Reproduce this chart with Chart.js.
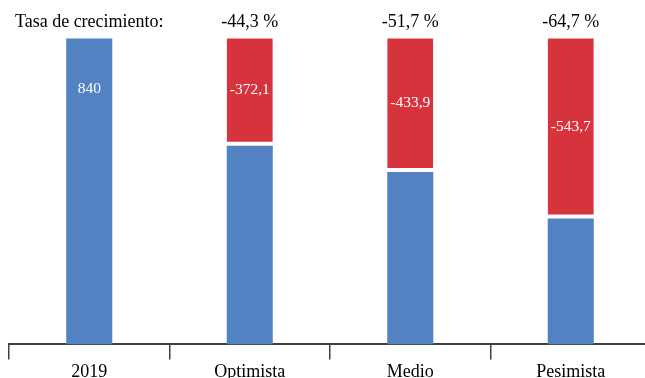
<!DOCTYPE html>
<html>
<head>
<meta charset="utf-8">
<script src="https://cdn.jsdelivr.net/npm/chart.js@4/dist/chart.umd.min.js"></script>
<style>
  html, body { margin: 0; padding: 0; background: #fff; overflow: hidden; }
  #wrap { width: 645px; height: 378px; overflow: hidden; position: relative; }
  #box { position: absolute; left: 0; top: 0; width: 660px; height: 385px; }
</style>
</head>
<body>
<div id="wrap"><div id="box"><canvas id="growthChart"></canvas></div></div>
<script>
const categories = ["2019", "Optimista", "Medio", "Pesimista"];
const remainingValues = [840, 467.9, 406.1, 296.3];
const lossValues = [null, -372.1, -433.9, -543.7];
const growthLabels = ["Tasa de crecimiento:", "-44,3 %", "-51,7 %", "-64,7 %"];

const BLUE = "#5382c2";
const RED = "#d6333d";
const AXIS = "#404040";
const SERIF = "'Liberation Serif', 'Times New Roman', serif";

function fmt(v) {
  return Number.isInteger(v) ? String(v) : v.toFixed(1).replace(".", ",");
}

// white value labels inside the bars
const barLabels = {
  id: "barLabels",
  afterDatasetsDraw(chart) {
    const { ctx, chartArea } = chart;
    ctx.save();
    ctx.fillStyle = "#fff";
    ctx.font = "15.5px " + SERIF;
    ctx.textAlign = "center";
    ctx.textBaseline = "middle";
    chart.data.datasets.forEach((ds, di) => {
      const meta = chart.getDatasetMeta(di);
      meta.data.forEach((bar, i) => {
        const raw = ds.labelValues[i];
        if (raw == null) return;
        const top = Math.max(bar.y, chartArea.top);
        let y;
        if (di === 0) {
          y = top + 50;
        } else {
          y = (top + bar.base - 4) / 2;
        }
        ctx.fillText(fmt(raw), bar.x, y);
      });
    });
    ctx.restore();
  },
};

new Chart(document.getElementById("growthChart"), {
  type: "bar",
  data: {
    labels: categories,
    datasets: [
      {
        label: "Valor",
        data: remainingValues,
        labelValues: [remainingValues[0], null, null, null],
        backgroundColor: BLUE,
        borderWidth: 0,
        clip: 0,
      },
      {
        label: "Variación",
        data: lossValues.map((v) => (v == null ? null : Math.abs(v))),
        labelValues: lossValues,
        backgroundColor: RED,
        borderColor: "#fff",
        borderWidth: { top: 0, right: 0, bottom: 4, left: 0 },
        borderSkipped: false,
        clip: 0,
      },
    ],
  },
  options: {
    responsive: true,
    maintainAspectRatio: false,
    animation: false,
    layout: { padding: { left: 9, right: 9, top: 5, bottom: 0 } },
    plugins: {
      legend: { display: false },
      tooltip: { enabled: false },
    },
    datasets: {
      bar: { categoryPercentage: 1, barPercentage: 0.287 },
    },
    scales: {
      x: {
        stacked: true,
        offset: true,
        grid: {
          offset: true,
          drawOnChartArea: false,
          color: AXIS,
          lineWidth: 1.5,
          tickLength: 15,
        },
        border: { display: true, color: AXIS, width: 2 },
        ticks: {
          color: "#000",
          padding: 2,
          font: { family: SERIF, size: 18 },
          maxRotation: 0,
          autoSkip: false,
        },
      },
      xTop: {
        type: "category",
        position: "top",
        labels: growthLabels,
        offset: true,
        grid: { display: false, drawTicks: false },
        border: { display: false },
        ticks: {
          color: "#000",
          padding: 6,
          font: { family: SERIF, size: 18 },
          maxRotation: 0,
          autoSkip: false,
        },
      },
      y: {
        stacked: true,
        display: false,
        min: 0,
        max: 720,
      },
    },
  },
  plugins: [barLabels],
});
</script>
</body>
</html>
